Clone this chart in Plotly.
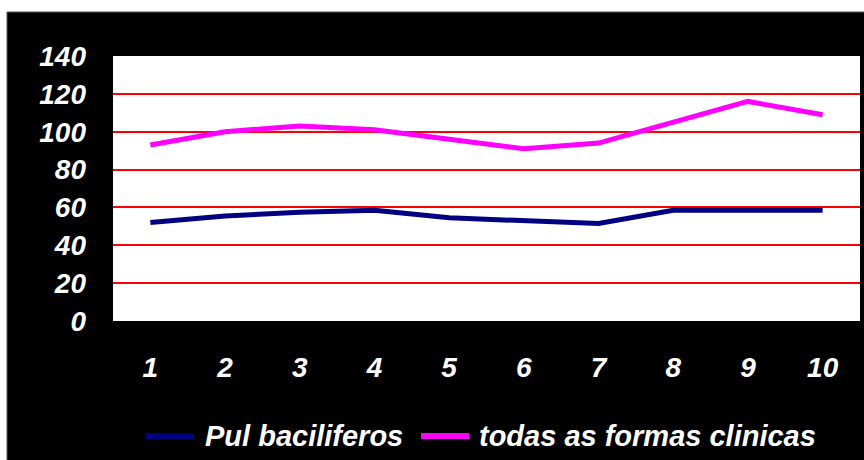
import plotly.graph_objects as go

# Period index shown on the horizontal axis
periodos = ["1", "2", "3", "4", "5", "6", "7", "8", "9", "10"]

# Case counts per period
pul_baciliferos = [52, 55.5, 57.5, 58.5, 54.5, 52.7, 51.5, 58.5, 58.5, 58.5]
todas_formas = [93, 100, 103, 101, 96, 91, 94, 105, 116, 109]

series_names = ["Pul baciliferos", "todas as formas clinicas"]
series_colors = ["#000080", "#FF00FF"]

y_ticks = [0, 20, 40, 60, 80, 100, 120, 140]

FONT = "Liberation Sans, Arial, sans-serif"

# Plot-area geometry in pixels (864 x 460 page)
W, H = 864, 460
L, R, T, B = 113, 4, 56, 139
pw, ph = W - L - R, H - T - B


def px_x(px):
    return (px - L) / pw


def px_y(py):
    return (H - B - py) / ph


fig = go.Figure()

for name, vals, color in zip(series_names, [pul_baciliferos, todas_formas], series_colors):
    fig.add_trace(go.Scatter(
        x=periodos, y=vals, mode="lines", name=name,
        line=dict(color=color, width=5),
    ))

# Black panel on a white page, then the white plotting field on top of it
shapes = [
    dict(type="rect", xref="paper", yref="paper",
         x0=px_x(7), x1=px_x(W + 5), y0=px_y(H + 5), y1=px_y(12),
         fillcolor="black", line=dict(color="#555555", width=1), layer="below"),
    dict(type="rect", xref="paper", yref="paper",
         x0=0, x1=1, y0=0, y1=1,
         fillcolor="white", line=dict(width=0), layer="below"),
]

# Legend row under the axis: sample line + label for each series
legend_y = 436
legend_items = [(146, 194, 203), (421, 469, 477)]
annotations = []
for (lx0, lx1, tx), name, color in zip(legend_items, series_names, series_colors):
    shapes.append(dict(
        type="line", xref="paper", yref="paper",
        x0=px_x(lx0), x1=px_x(lx1), y0=px_y(legend_y), y1=px_y(legend_y),
        line=dict(color=color, width=6), layer="above",
    ))
    annotations.append(dict(
        text=name, xref="paper", yref="paper",
        x=px_x(tx), y=px_y(legend_y), xanchor="left", yanchor="middle",
        showarrow=False,
        font=dict(family=FONT, size=29, color="white", weight="bold", style="italic"),
    ))

tick_font = dict(family=FONT, size=28, color="white", weight="bold", style="italic")

fig.update_layout(
    width=W, height=H,
    margin=dict(l=L, r=R, t=T, b=B, pad=0),
    paper_bgcolor="white",
    plot_bgcolor="white",
    shapes=shapes,
    annotations=annotations,
    showlegend=False,
    xaxis=dict(
        type="category", range=[-0.5, 9.5],
        showgrid=False, zeroline=False, showline=False,
        ticks="", tickfont=tick_font, ticklabelstandoff=27,
    ),
    yaxis=dict(
        range=[0, 140], tickvals=y_ticks,
        showgrid=True, gridcolor="#FF0000", gridwidth=1.5,
        zeroline=False, showline=False,
        ticks="", tickfont=tick_font, ticklabelstandoff=26,
    ),
)

fig.write_html("out.html")
